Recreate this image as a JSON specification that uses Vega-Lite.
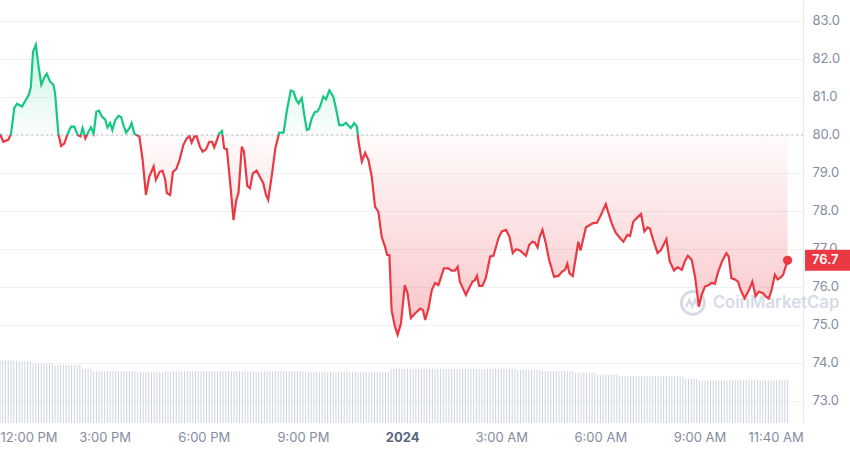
{
  "$schema": "https://vega.github.io/schema/vega-lite/v6.json",
  "width": 803,
  "height": 423,
  "padding": {"left": 0, "top": 0, "right": 47, "bottom": 30},
  "autosize": {"type": "none", "contains": "content"},
  "background": "white",
  "config": {"view": {"stroke": null}, "font": "Inter"},
  "datasets": {
    "price": [
      {"t":"2023-12-31T11:50Z","p":80.03},{"t":"2023-12-31T11:56Z","p":79.82},{"t":"2023-12-31T12:05Z","p":79.87},{"t":"2023-12-31T12:10Z","p":80.03},
      {"t":"2023-12-31T12:16Z","p":80.71},{"t":"2023-12-31T12:21Z","p":80.82},{"t":"2023-12-31T12:30Z","p":80.75},{"t":"2023-12-31T12:36Z","p":80.90},
      {"t":"2023-12-31T12:42Z","p":81.05},{"t":"2023-12-31T12:46Z","p":81.25},{"t":"2023-12-31T12:50Z","p":82.19},{"t":"2023-12-31T12:55Z","p":82.37},
      {"t":"2023-12-31T13:00Z","p":81.80},{"t":"2023-12-31T13:05Z","p":81.32},{"t":"2023-12-31T13:11Z","p":81.53},{"t":"2023-12-31T13:15Z","p":81.61},
      {"t":"2023-12-31T13:21Z","p":81.40},{"t":"2023-12-31T13:27Z","p":81.32},{"t":"2023-12-31T13:30Z","p":81.10},{"t":"2023-12-31T13:36Z","p":80.03},
      {"t":"2023-12-31T13:41Z","p":79.71},{"t":"2023-12-31T13:47Z","p":79.78},{"t":"2023-12-31T13:52Z","p":80.00},{"t":"2023-12-31T13:59Z","p":80.22},
      {"t":"2023-12-31T14:05Z","p":80.22},{"t":"2023-12-31T14:11Z","p":80.00},{"t":"2023-12-31T14:16Z","p":79.96},{"t":"2023-12-31T14:20Z","p":80.18},
      {"t":"2023-12-31T14:25Z","p":79.91},{"t":"2023-12-31T14:31Z","p":80.09},{"t":"2023-12-31T14:35Z","p":80.20},{"t":"2023-12-31T14:40Z","p":80.04},
      {"t":"2023-12-31T14:45Z","p":80.61},{"t":"2023-12-31T14:50Z","p":80.64},{"t":"2023-12-31T14:55Z","p":80.48},{"t":"2023-12-31T15:01Z","p":80.41},
      {"t":"2023-12-31T15:05Z","p":80.20},{"t":"2023-12-31T15:10Z","p":80.31},{"t":"2023-12-31T15:14Z","p":80.13},{"t":"2023-12-31T15:19Z","p":80.38},
      {"t":"2023-12-31T15:25Z","p":80.50},{"t":"2023-12-31T15:30Z","p":80.47},{"t":"2023-12-31T15:34Z","p":80.26},{"t":"2023-12-31T15:39Z","p":80.06},
      {"t":"2023-12-31T15:45Z","p":80.18},{"t":"2023-12-31T15:49Z","p":80.31},{"t":"2023-12-31T15:54Z","p":80.03},{"t":"2023-12-31T16:03Z","p":79.96},
      {"t":"2023-12-31T16:09Z","p":79.34},{"t":"2023-12-31T16:15Z","p":78.42},{"t":"2023-12-31T16:21Z","p":78.90},{"t":"2023-12-31T16:29Z","p":79.17},
      {"t":"2023-12-31T16:33Z","p":78.82},{"t":"2023-12-31T16:40Z","p":79.03},{"t":"2023-12-31T16:45Z","p":79.06},{"t":"2023-12-31T16:50Z","p":78.82},
      {"t":"2023-12-31T16:53Z","p":78.47},{"t":"2023-12-31T16:59Z","p":78.42},{"t":"2023-12-31T17:04Z","p":79.03},{"t":"2023-12-31T17:10Z","p":79.10},
      {"t":"2023-12-31T17:16Z","p":79.34},{"t":"2023-12-31T17:23Z","p":79.74},{"t":"2023-12-31T17:29Z","p":79.91},{"t":"2023-12-31T17:34Z","p":79.97},
      {"t":"2023-12-31T17:38Z","p":79.80},{"t":"2023-12-31T17:43Z","p":79.96},{"t":"2023-12-31T17:47Z","p":79.96},{"t":"2023-12-31T17:53Z","p":79.69},
      {"t":"2023-12-31T17:58Z","p":79.56},{"t":"2023-12-31T18:04Z","p":79.62},{"t":"2023-12-31T18:10Z","p":79.82},{"t":"2023-12-31T18:15Z","p":79.82},
      {"t":"2023-12-31T18:19Z","p":79.67},{"t":"2023-12-31T18:24Z","p":79.87},{"t":"2023-12-31T18:28Z","p":80.04},{"t":"2023-12-31T18:33Z","p":80.10},
      {"t":"2023-12-31T18:37Z","p":79.65},{"t":"2023-12-31T18:42Z","p":79.62},{"t":"2023-12-31T18:48Z","p":78.73},{"t":"2023-12-31T18:54Z","p":77.76},
      {"t":"2023-12-31T18:59Z","p":78.29},{"t":"2023-12-31T19:03Z","p":78.47},{"t":"2023-12-31T19:09Z","p":79.69},{"t":"2023-12-31T19:13Z","p":79.56},
      {"t":"2023-12-31T19:19Z","p":78.66},{"t":"2023-12-31T19:24Z","p":78.60},{"t":"2023-12-31T19:29Z","p":78.99},{"t":"2023-12-31T19:36Z","p":79.06},
      {"t":"2023-12-31T19:42Z","p":78.89},{"t":"2023-12-31T19:48Z","p":78.73},{"t":"2023-12-31T19:53Z","p":78.42},{"t":"2023-12-31T19:57Z","p":78.29},
      {"t":"2023-12-31T20:04Z","p":78.99},{"t":"2023-12-31T20:10Z","p":79.65},{"t":"2023-12-31T20:17Z","p":80.06},{"t":"2023-12-31T20:25Z","p":80.06},
      {"t":"2023-12-31T20:31Z","p":80.66},{"t":"2023-12-31T20:38Z","p":81.17},{"t":"2023-12-31T20:43Z","p":81.14},{"t":"2023-12-31T20:48Z","p":80.92},
      {"t":"2023-12-31T20:52Z","p":80.83},{"t":"2023-12-31T20:58Z","p":80.97},{"t":"2023-12-31T21:02Z","p":80.57},{"t":"2023-12-31T21:07Z","p":80.13},
      {"t":"2023-12-31T21:11Z","p":80.15},{"t":"2023-12-31T21:16Z","p":80.44},{"t":"2023-12-31T21:22Z","p":80.61},{"t":"2023-12-31T21:26Z","p":80.61},
      {"t":"2023-12-31T21:31Z","p":80.74},{"t":"2023-12-31T21:37Z","p":81.01},{"t":"2023-12-31T21:42Z","p":80.94},{"t":"2023-12-31T21:48Z","p":81.17},
      {"t":"2023-12-31T21:55Z","p":81.01},{"t":"2023-12-31T22:00Z","p":80.70},{"t":"2023-12-31T22:06Z","p":80.26},{"t":"2023-12-31T22:13Z","p":80.26},
      {"t":"2023-12-31T22:18Z","p":80.32},{"t":"2023-12-31T22:27Z","p":80.18},{"t":"2023-12-31T22:33Z","p":80.31},{"t":"2023-12-31T22:38Z","p":80.22},
      {"t":"2023-12-31T22:41Z","p":79.82},{"t":"2023-12-31T22:47Z","p":79.30},{"t":"2023-12-31T22:53Z","p":79.53},{"t":"2023-12-31T22:59Z","p":79.34},
      {"t":"2023-12-31T23:05Z","p":78.90},{"t":"2023-12-31T23:11Z","p":78.11},{"t":"2023-12-31T23:17Z","p":77.98},{"t":"2023-12-31T23:23Z","p":77.32},
      {"t":"2023-12-31T23:29Z","p":77.06},{"t":"2023-12-31T23:33Z","p":76.84},{"t":"2023-12-31T23:37Z","p":76.84},{"t":"2023-12-31T23:41Z","p":75.39},
      {"t":"2023-12-31T23:47Z","p":74.96},{"t":"2023-12-31T23:52Z","p":74.74},{"t":"2023-12-31T23:58Z","p":75.04},
      {"t":"2024-01-01T00:05Z","p":76.05},{"t":"2024-01-01T00:10Z","p":75.83},{"t":"2024-01-01T00:16Z","p":75.18},{"t":"2024-01-01T00:24Z","p":75.31},
      {"t":"2024-01-01T00:33Z","p":75.43},{"t":"2024-01-01T00:38Z","p":75.39},{"t":"2024-01-01T00:42Z","p":75.13},{"t":"2024-01-01T00:48Z","p":75.43},
      {"t":"2024-01-01T00:54Z","p":75.92},{"t":"2024-01-01T01:00Z","p":76.10},{"t":"2024-01-01T01:06Z","p":76.05},{"t":"2024-01-01T01:16Z","p":76.49},
      {"t":"2024-01-01T01:24Z","p":76.49},{"t":"2024-01-01T01:30Z","p":76.43},{"t":"2024-01-01T01:36Z","p":76.43},{"t":"2024-01-01T01:41Z","p":76.53},
      {"t":"2024-01-01T01:45Z","p":76.14},{"t":"2024-01-01T01:56Z","p":75.79},{"t":"2024-01-01T02:02Z","p":75.97},{"t":"2024-01-01T02:08Z","p":76.14},
      {"t":"2024-01-01T02:12Z","p":76.17},{"t":"2024-01-01T02:16Z","p":76.29},{"t":"2024-01-01T02:20Z","p":76.03},{"t":"2024-01-01T02:26Z","p":76.03},
      {"t":"2024-01-01T02:32Z","p":76.23},{"t":"2024-01-01T02:40Z","p":76.80},{"t":"2024-01-01T02:46Z","p":76.82},{"t":"2024-01-01T02:55Z","p":77.28},
      {"t":"2024-01-01T03:01Z","p":77.46},{"t":"2024-01-01T03:09Z","p":77.50},{"t":"2024-01-01T03:15Z","p":77.32},{"t":"2024-01-01T03:21Z","p":76.89},
      {"t":"2024-01-01T03:27Z","p":76.99},{"t":"2024-01-01T03:34Z","p":76.96},{"t":"2024-01-01T03:45Z","p":76.82},{"t":"2024-01-01T03:51Z","p":77.11},
      {"t":"2024-01-01T03:57Z","p":77.19},{"t":"2024-01-01T04:01Z","p":77.17},{"t":"2024-01-01T04:06Z","p":77.04},{"t":"2024-01-01T04:10Z","p":77.32},
      {"t":"2024-01-01T04:15Z","p":77.50},{"t":"2024-01-01T04:21Z","p":77.15},{"t":"2024-01-01T04:27Z","p":76.71},{"t":"2024-01-01T04:36Z","p":76.27},
      {"t":"2024-01-01T04:44Z","p":76.29},{"t":"2024-01-01T04:50Z","p":76.40},{"t":"2024-01-01T04:56Z","p":76.45},{"t":"2024-01-01T05:00Z","p":76.61},
      {"t":"2024-01-01T05:04Z","p":76.36},{"t":"2024-01-01T05:10Z","p":76.29},{"t":"2024-01-01T05:20Z","p":77.19},{"t":"2024-01-01T05:24Z","p":76.96},
      {"t":"2024-01-01T05:34Z","p":77.57},{"t":"2024-01-01T05:41Z","p":77.63},{"t":"2024-01-01T05:47Z","p":77.68},{"t":"2024-01-01T05:54Z","p":77.69},
      {"t":"2024-01-01T06:01Z","p":77.89},{"t":"2024-01-01T06:10Z","p":78.18},{"t":"2024-01-01T06:14Z","p":77.98},{"t":"2024-01-01T06:21Z","p":77.66},
      {"t":"2024-01-01T06:28Z","p":77.43},{"t":"2024-01-01T06:36Z","p":77.28},{"t":"2024-01-01T06:42Z","p":77.19},{"t":"2024-01-01T06:49Z","p":77.37},
      {"t":"2024-01-01T06:54Z","p":77.34},{"t":"2024-01-01T07:00Z","p":77.72},{"t":"2024-01-01T07:06Z","p":77.81},{"t":"2024-01-01T07:14Z","p":77.92},
      {"t":"2024-01-01T07:20Z","p":77.46},{"t":"2024-01-01T07:26Z","p":77.57},{"t":"2024-01-01T07:30Z","p":77.54},{"t":"2024-01-01T07:36Z","p":77.24},
      {"t":"2024-01-01T07:44Z","p":76.89},{"t":"2024-01-01T07:50Z","p":76.97},{"t":"2024-01-01T08:00Z","p":77.26},{"t":"2024-01-01T08:06Z","p":76.67},
      {"t":"2024-01-01T08:14Z","p":76.43},{"t":"2024-01-01T08:20Z","p":76.52},{"t":"2024-01-01T08:28Z","p":76.45},{"t":"2024-01-01T08:34Z","p":76.69},
      {"t":"2024-01-01T08:39Z","p":76.82},{"t":"2024-01-01T08:46Z","p":76.71},{"t":"2024-01-01T08:52Z","p":76.27},{"t":"2024-01-01T08:59Z","p":75.48},
      {"t":"2024-01-01T09:04Z","p":75.79},{"t":"2024-01-01T09:10Z","p":76.01},{"t":"2024-01-01T09:17Z","p":76.05},{"t":"2024-01-01T09:22Z","p":76.11},
      {"t":"2024-01-01T09:28Z","p":76.08},{"t":"2024-01-01T09:34Z","p":76.40},{"t":"2024-01-01T09:41Z","p":76.67},{"t":"2024-01-01T09:49Z","p":76.89},
      {"t":"2024-01-01T09:53Z","p":76.80},{"t":"2024-01-01T09:58Z","p":76.23},{"t":"2024-01-01T10:04Z","p":76.20},{"t":"2024-01-01T10:10Z","p":76.14},
      {"t":"2024-01-01T10:15Z","p":75.92},{"t":"2024-01-01T10:22Z","p":75.70},{"t":"2024-01-01T10:30Z","p":75.92},{"t":"2024-01-01T10:36Z","p":76.14},
      {"t":"2024-01-01T10:42Z","p":75.76},{"t":"2024-01-01T10:48Z","p":75.88},{"t":"2024-01-01T10:56Z","p":75.83},{"t":"2024-01-01T11:01Z","p":75.74},
      {"t":"2024-01-01T11:06Z","p":75.70},{"t":"2024-01-01T11:11Z","p":75.92},{"t":"2024-01-01T11:17Z","p":76.32},{"t":"2024-01-01T11:22Z","p":76.20},
      {"t":"2024-01-01T11:28Z","p":76.26},{"t":"2024-01-01T11:32Z","p":76.32},{"t":"2024-01-01T11:40Z","p":76.70}
    ],
    "last": [{"t":"2024-01-01T11:40Z","p":76.70}],
    "vol": [
      {"t":"2023-12-31T11:50Z","v":627},{"t":"2023-12-31T11:55Z","v":627},{"t":"2023-12-31T12:00Z","v":627},{"t":"2023-12-31T12:05Z","v":627},
      {"t":"2023-12-31T12:10Z","v":627},{"t":"2023-12-31T12:15Z","v":617},{"t":"2023-12-31T12:20Z","v":617},{"t":"2023-12-31T12:25Z","v":617},
      {"t":"2023-12-31T12:30Z","v":617},{"t":"2023-12-31T12:35Z","v":617},{"t":"2023-12-31T12:40Z","v":617},{"t":"2023-12-31T12:45Z","v":617},
      {"t":"2023-12-31T12:50Z","v":593},{"t":"2023-12-31T12:55Z","v":593},{"t":"2023-12-31T13:00Z","v":593},{"t":"2023-12-31T13:05Z","v":593},
      {"t":"2023-12-31T13:10Z","v":593},{"t":"2023-12-31T13:15Z","v":593},{"t":"2023-12-31T13:20Z","v":593},{"t":"2023-12-31T13:25Z","v":593},
      {"t":"2023-12-31T13:30Z","v":577},{"t":"2023-12-31T13:35Z","v":577},{"t":"2023-12-31T13:40Z","v":577},{"t":"2023-12-31T13:45Z","v":577},
      {"t":"2023-12-31T13:50Z","v":577},{"t":"2023-12-31T13:55Z","v":577},{"t":"2023-12-31T14:00Z","v":577},{"t":"2023-12-31T14:05Z","v":577},
      {"t":"2023-12-31T14:10Z","v":577},{"t":"2023-12-31T14:15Z","v":577},{"t":"2023-12-31T14:20Z","v":543},{"t":"2023-12-31T14:25Z","v":543},
      {"t":"2023-12-31T14:30Z","v":543},{"t":"2023-12-31T14:35Z","v":543},{"t":"2023-12-31T14:40Z","v":517},{"t":"2023-12-31T14:45Z","v":517},
      {"t":"2023-12-31T14:50Z","v":517},{"t":"2023-12-31T14:55Z","v":517},{"t":"2023-12-31T15:00Z","v":517},{"t":"2023-12-31T15:05Z","v":517},
      {"t":"2023-12-31T15:10Z","v":517},{"t":"2023-12-31T15:15Z","v":517},{"t":"2023-12-31T15:20Z","v":517},{"t":"2023-12-31T15:25Z","v":517},
      {"t":"2023-12-31T15:30Z","v":517},{"t":"2023-12-31T15:35Z","v":517},{"t":"2023-12-31T15:40Z","v":517},{"t":"2023-12-31T15:45Z","v":517},
      {"t":"2023-12-31T15:50Z","v":517},{"t":"2023-12-31T15:55Z","v":517},{"t":"2023-12-31T16:00Z","v":507},{"t":"2023-12-31T16:05Z","v":507},
      {"t":"2023-12-31T16:10Z","v":507},{"t":"2023-12-31T16:15Z","v":507},{"t":"2023-12-31T16:20Z","v":507},{"t":"2023-12-31T16:25Z","v":507},
      {"t":"2023-12-31T16:30Z","v":507},{"t":"2023-12-31T16:35Z","v":507},{"t":"2023-12-31T16:40Z","v":507},{"t":"2023-12-31T16:45Z","v":507},
      {"t":"2023-12-31T16:50Z","v":517},{"t":"2023-12-31T16:55Z","v":517},{"t":"2023-12-31T17:00Z","v":517},{"t":"2023-12-31T17:05Z","v":517},
      {"t":"2023-12-31T17:10Z","v":517},{"t":"2023-12-31T17:15Z","v":517},{"t":"2023-12-31T17:20Z","v":517},{"t":"2023-12-31T17:25Z","v":517},
      {"t":"2023-12-31T17:30Z","v":517},{"t":"2023-12-31T17:35Z","v":517},{"t":"2023-12-31T17:40Z","v":517},{"t":"2023-12-31T17:45Z","v":517},
      {"t":"2023-12-31T17:50Z","v":517},{"t":"2023-12-31T17:55Z","v":517},{"t":"2023-12-31T18:00Z","v":517},{"t":"2023-12-31T18:05Z","v":517},
      {"t":"2023-12-31T18:10Z","v":517},{"t":"2023-12-31T18:15Z","v":517},{"t":"2023-12-31T18:20Z","v":517},{"t":"2023-12-31T18:25Z","v":517},
      {"t":"2023-12-31T18:30Z","v":517},{"t":"2023-12-31T18:35Z","v":517},{"t":"2023-12-31T18:40Z","v":517},{"t":"2023-12-31T18:45Z","v":517},
      {"t":"2023-12-31T18:50Z","v":517},{"t":"2023-12-31T18:55Z","v":517},{"t":"2023-12-31T19:00Z","v":517},{"t":"2023-12-31T19:05Z","v":517},
      {"t":"2023-12-31T19:10Z","v":517},{"t":"2023-12-31T19:15Z","v":517},{"t":"2023-12-31T19:20Z","v":517},{"t":"2023-12-31T19:25Z","v":517},
      {"t":"2023-12-31T19:30Z","v":517},{"t":"2023-12-31T19:35Z","v":517},{"t":"2023-12-31T19:40Z","v":517},{"t":"2023-12-31T19:45Z","v":517},
      {"t":"2023-12-31T19:50Z","v":517},{"t":"2023-12-31T19:55Z","v":517},{"t":"2023-12-31T20:00Z","v":517},{"t":"2023-12-31T20:05Z","v":517},
      {"t":"2023-12-31T20:10Z","v":517},{"t":"2023-12-31T20:15Z","v":517},{"t":"2023-12-31T20:20Z","v":517},{"t":"2023-12-31T20:25Z","v":517},
      {"t":"2023-12-31T20:30Z","v":517},{"t":"2023-12-31T20:35Z","v":517},{"t":"2023-12-31T20:40Z","v":517},{"t":"2023-12-31T20:45Z","v":517},
      {"t":"2023-12-31T20:50Z","v":517},{"t":"2023-12-31T20:55Z","v":517},{"t":"2023-12-31T21:00Z","v":517},{"t":"2023-12-31T21:05Z","v":510},
      {"t":"2023-12-31T21:10Z","v":510},{"t":"2023-12-31T21:15Z","v":510},{"t":"2023-12-31T21:20Z","v":510},{"t":"2023-12-31T21:25Z","v":510},
      {"t":"2023-12-31T21:30Z","v":510},{"t":"2023-12-31T21:35Z","v":510},{"t":"2023-12-31T21:40Z","v":510},{"t":"2023-12-31T21:45Z","v":510},
      {"t":"2023-12-31T21:50Z","v":510},{"t":"2023-12-31T21:55Z","v":510},{"t":"2023-12-31T22:00Z","v":510},{"t":"2023-12-31T22:05Z","v":510},
      {"t":"2023-12-31T22:10Z","v":510},{"t":"2023-12-31T22:15Z","v":510},{"t":"2023-12-31T22:20Z","v":510},{"t":"2023-12-31T22:25Z","v":510},
      {"t":"2023-12-31T22:30Z","v":510},{"t":"2023-12-31T22:35Z","v":510},{"t":"2023-12-31T22:40Z","v":510},{"t":"2023-12-31T22:45Z","v":510},
      {"t":"2023-12-31T22:50Z","v":510},{"t":"2023-12-31T22:55Z","v":510},{"t":"2023-12-31T23:00Z","v":510},{"t":"2023-12-31T23:05Z","v":510},
      {"t":"2023-12-31T23:10Z","v":510},{"t":"2023-12-31T23:15Z","v":510},{"t":"2023-12-31T23:20Z","v":510},{"t":"2023-12-31T23:25Z","v":510},
      {"t":"2023-12-31T23:30Z","v":510},{"t":"2023-12-31T23:35Z","v":510},{"t":"2023-12-31T23:40Z","v":543},{"t":"2023-12-31T23:45Z","v":543},
      {"t":"2023-12-31T23:50Z","v":543},{"t":"2023-12-31T23:55Z","v":543},
      {"t":"2024-01-01T00:00Z","v":543},{"t":"2024-01-01T00:05Z","v":543},{"t":"2024-01-01T00:10Z","v":543},{"t":"2024-01-01T00:15Z","v":543},
      {"t":"2024-01-01T00:20Z","v":543},{"t":"2024-01-01T00:25Z","v":543},{"t":"2024-01-01T00:30Z","v":543},{"t":"2024-01-01T00:35Z","v":543},
      {"t":"2024-01-01T00:40Z","v":543},{"t":"2024-01-01T00:45Z","v":543},{"t":"2024-01-01T00:50Z","v":543},{"t":"2024-01-01T00:55Z","v":543},
      {"t":"2024-01-01T01:00Z","v":543},{"t":"2024-01-01T01:05Z","v":543},{"t":"2024-01-01T01:10Z","v":543},{"t":"2024-01-01T01:15Z","v":543},
      {"t":"2024-01-01T01:20Z","v":543},{"t":"2024-01-01T01:25Z","v":543},{"t":"2024-01-01T01:30Z","v":543},{"t":"2024-01-01T01:35Z","v":543},
      {"t":"2024-01-01T01:40Z","v":543},{"t":"2024-01-01T01:45Z","v":543},{"t":"2024-01-01T01:50Z","v":543},{"t":"2024-01-01T01:55Z","v":543},
      {"t":"2024-01-01T02:00Z","v":543},{"t":"2024-01-01T02:05Z","v":543},{"t":"2024-01-01T02:10Z","v":543},{"t":"2024-01-01T02:15Z","v":543},
      {"t":"2024-01-01T02:20Z","v":543},{"t":"2024-01-01T02:25Z","v":543},{"t":"2024-01-01T02:30Z","v":543},{"t":"2024-01-01T02:35Z","v":543},
      {"t":"2024-01-01T02:40Z","v":543},{"t":"2024-01-01T02:45Z","v":543},{"t":"2024-01-01T02:50Z","v":543},{"t":"2024-01-01T02:55Z","v":543},
      {"t":"2024-01-01T03:00Z","v":543},{"t":"2024-01-01T03:05Z","v":543},{"t":"2024-01-01T03:10Z","v":543},{"t":"2024-01-01T03:15Z","v":543},
      {"t":"2024-01-01T03:20Z","v":543},{"t":"2024-01-01T03:25Z","v":543},{"t":"2024-01-01T03:30Z","v":533},{"t":"2024-01-01T03:35Z","v":533},
      {"t":"2024-01-01T03:40Z","v":533},{"t":"2024-01-01T03:45Z","v":533},{"t":"2024-01-01T03:50Z","v":533},{"t":"2024-01-01T03:55Z","v":533},
      {"t":"2024-01-01T04:00Z","v":533},{"t":"2024-01-01T04:05Z","v":533},{"t":"2024-01-01T04:10Z","v":533},{"t":"2024-01-01T04:15Z","v":520},
      {"t":"2024-01-01T04:20Z","v":520},{"t":"2024-01-01T04:25Z","v":520},{"t":"2024-01-01T04:30Z","v":520},{"t":"2024-01-01T04:35Z","v":520},
      {"t":"2024-01-01T04:40Z","v":520},{"t":"2024-01-01T04:45Z","v":520},{"t":"2024-01-01T04:50Z","v":520},{"t":"2024-01-01T04:55Z","v":520},
      {"t":"2024-01-01T05:00Z","v":520},{"t":"2024-01-01T05:05Z","v":520},{"t":"2024-01-01T05:10Z","v":520},{"t":"2024-01-01T05:15Z","v":503},
      {"t":"2024-01-01T05:20Z","v":503},{"t":"2024-01-01T05:25Z","v":503},{"t":"2024-01-01T05:30Z","v":503},{"t":"2024-01-01T05:35Z","v":503},
      {"t":"2024-01-01T05:40Z","v":503},{"t":"2024-01-01T05:45Z","v":503},{"t":"2024-01-01T05:50Z","v":503},{"t":"2024-01-01T05:55Z","v":483},
      {"t":"2024-01-01T06:00Z","v":483},{"t":"2024-01-01T06:05Z","v":483},{"t":"2024-01-01T06:10Z","v":483},{"t":"2024-01-01T06:15Z","v":483},
      {"t":"2024-01-01T06:20Z","v":483},{"t":"2024-01-01T06:25Z","v":483},{"t":"2024-01-01T06:30Z","v":483},{"t":"2024-01-01T06:35Z","v":467},
      {"t":"2024-01-01T06:40Z","v":467},{"t":"2024-01-01T06:45Z","v":467},{"t":"2024-01-01T06:50Z","v":467},{"t":"2024-01-01T06:55Z","v":467},
      {"t":"2024-01-01T07:00Z","v":467},{"t":"2024-01-01T07:05Z","v":467},{"t":"2024-01-01T07:10Z","v":467},{"t":"2024-01-01T07:15Z","v":467},
      {"t":"2024-01-01T07:20Z","v":467},{"t":"2024-01-01T07:25Z","v":467},{"t":"2024-01-01T07:30Z","v":467},{"t":"2024-01-01T07:35Z","v":467},
      {"t":"2024-01-01T07:40Z","v":467},{"t":"2024-01-01T07:45Z","v":467},{"t":"2024-01-01T07:50Z","v":467},{"t":"2024-01-01T07:55Z","v":467},
      {"t":"2024-01-01T08:00Z","v":467},{"t":"2024-01-01T08:05Z","v":467},{"t":"2024-01-01T08:10Z","v":467},{"t":"2024-01-01T08:15Z","v":467},
      {"t":"2024-01-01T08:20Z","v":467},{"t":"2024-01-01T08:25Z","v":467},{"t":"2024-01-01T08:30Z","v":467},{"t":"2024-01-01T08:35Z","v":443},
      {"t":"2024-01-01T08:40Z","v":443},{"t":"2024-01-01T08:45Z","v":443},{"t":"2024-01-01T08:50Z","v":443},{"t":"2024-01-01T08:55Z","v":443},
      {"t":"2024-01-01T09:00Z","v":427},{"t":"2024-01-01T09:05Z","v":427},{"t":"2024-01-01T09:10Z","v":427},{"t":"2024-01-01T09:15Z","v":427},
      {"t":"2024-01-01T09:20Z","v":427},{"t":"2024-01-01T09:25Z","v":427},{"t":"2024-01-01T09:30Z","v":427},{"t":"2024-01-01T09:35Z","v":427},
      {"t":"2024-01-01T09:40Z","v":427},{"t":"2024-01-01T09:45Z","v":427},{"t":"2024-01-01T09:50Z","v":427},{"t":"2024-01-01T09:55Z","v":427},
      {"t":"2024-01-01T10:00Z","v":427},{"t":"2024-01-01T10:05Z","v":427},{"t":"2024-01-01T10:10Z","v":427},{"t":"2024-01-01T10:15Z","v":427},
      {"t":"2024-01-01T10:20Z","v":427},{"t":"2024-01-01T10:25Z","v":427},{"t":"2024-01-01T10:30Z","v":427},{"t":"2024-01-01T10:35Z","v":427},
      {"t":"2024-01-01T10:40Z","v":427},{"t":"2024-01-01T10:45Z","v":427},{"t":"2024-01-01T10:50Z","v":427},{"t":"2024-01-01T10:55Z","v":427},
      {"t":"2024-01-01T11:00Z","v":427},{"t":"2024-01-01T11:05Z","v":427},{"t":"2024-01-01T11:10Z","v":427},{"t":"2024-01-01T11:15Z","v":427},
      {"t":"2024-01-01T11:20Z","v":427},{"t":"2024-01-01T11:25Z","v":427},{"t":"2024-01-01T11:30Z","v":427},{"t":"2024-01-01T11:35Z","v":427},
      {"t":"2024-01-01T11:40Z","v":427}
    ]
  },
  "layer": [
    {
      "data": {"name": "vol"},
      "mark": {"type": "bar", "width": 1, "color": "#cdd3df"},
      "encoding": {
        "x": {
          "field": "t", "type": "temporal",
          "scale": {"type": "utc", "nice": false, "padding": 0, "domain": [
            {"year": 2023, "month": 12, "date": 31, "hours": 11, "minutes": 50, "utc": true},
            {"year": 2024, "month": 1, "date": 1, "hours": 12, "minutes": 8, "utc": true}
          ]},
          "axis": {
            "title": null,
            "values": [
              {"year": 2023, "month": 12, "date": 31, "hours": 12, "utc": true},
              {"year": 2023, "month": 12, "date": 31, "hours": 15, "utc": true},
              {"year": 2023, "month": 12, "date": 31, "hours": 18, "utc": true},
              {"year": 2023, "month": 12, "date": 31, "hours": 21, "utc": true},
              {"year": 2024, "month": 1, "date": 1, "hours": 0, "utc": true},
              {"year": 2024, "month": 1, "date": 1, "hours": 3, "utc": true},
              {"year": 2024, "month": 1, "date": 1, "hours": 6, "utc": true},
              {"year": 2024, "month": 1, "date": 1, "hours": 9, "utc": true},
              {"year": 2024, "month": 1, "date": 1, "hours": 11, "minutes": 40, "utc": true}
            ],
            "labelExpr": "utchours(datum.value) == 0 && utcminutes(datum.value) == 0 ? '2024' : utcFormat(datum.value, '%-I:%M %p')",
            "labelFontWeight": {"condition": {"test": "utchours(datum.value) == 0 && utcminutes(datum.value) == 0", "value": "bold"}, "value": "normal"},
            "labelColor": {"condition": {"test": "utchours(datum.value) == 0 && utcminutes(datum.value) == 0", "value": "#58667e"}, "value": "#858ca2"},
            "labelAlign": "center",
            "labelOffset": {"condition": [
              {"test": "utcdate(datum.value) == 31 && utchours(datum.value) == 12", "value": 23},
              {"test": "utcminutes(datum.value) == 40", "value": -12}
            ], "value": 0},
            "labelFlush": false,
            "grid": false, "domain": false, "ticks": false,
            "labelPadding": 8, "labelFontSize": 13, "labelFont": "Inter", "labelOverlap": false
          }
        },
        "y": {"field": "v", "type": "quantitative", "scale": {"domain": [0, 4230], "nice": false}, "axis": null}
      }
    },
    {
      "data": {"name": "price"},
      "layer": [
        {
          "mark": {
            "type": "area", "interpolate": "linear", "line": false,
            "fill": {"gradient": "linear", "x1": 0, "y1": 0, "x2": 0, "y2": 1, "stops": [
              {"offset": 0, "color": "rgba(22,199,132,0.22)"},
              {"offset": 0.3106, "color": "rgba(22,199,132,0.02)"},
              {"offset": 0.3106, "color": "rgba(234,57,67,0.02)"},
              {"offset": 1, "color": "rgba(234,57,67,0.30)"}
            ]}
          },
          "encoding": {
            "x": {"field": "t", "type": "temporal"},
            "y": {
              "field": "p", "type": "quantitative",
              "scale": {"domain": [72.42, 83.55], "nice": false, "zero": false},
              "axis": {
                "orient": "right", "title": null,
                "values": [73, 74, 75, 76, 77, 78, 79, 80, 81, 82, 83],
                "format": ".1f", "grid": true, "gridColor": "#eff2f5", "gridWidth": 1,
                "domain": true, "domainColor": "#e6e9ef", "ticks": false,
                "labelPadding": 9, "labelColor": "#858ca2", "labelFontSize": 13, "labelFont": "Inter"
              }
            },
            "y2": {"datum": 80}
          }
        },
        {
          "data": {"values": [{}]},
          "mark": {"type": "rule", "strokeDash": [1.5, 3.5], "color": "#a7aebf", "strokeWidth": 1},
          "encoding": {"y": {"datum": 80}}
        },
        {
          "data": {"values": [{}]},
          "mark": {"type": "point", "shape": "circle", "filled": false, "size": 529, "strokeWidth": 3, "color": "#cfd6e2", "opacity": 0.85},
          "encoding": {
            "x": {"datum": {"year": 2024, "month": 1, "date": 1, "hours": 8, "minutes": 48, "utc": true}},
            "y": {"datum": 75.58}
          }
        },
        {
          "data": {"values": [{}]},
          "mark": {"type": "point", "shape": "M-0.6,0.35 L-0.3,-0.25 L-0.05,0.3 L0.2,-0.25 L0.42,0.2 L0.6,0.05", "filled": false, "size": 529, "strokeWidth": 2.5, "color": "#cfd6e2", "opacity": 0.85},
          "encoding": {
            "x": {"datum": {"year": 2024, "month": 1, "date": 1, "hours": 8, "minutes": 48, "utc": true}},
            "y": {"datum": 75.58}
          }
        },
        {
          "data": {"values": [{}]},
          "mark": {"type": "text", "text": "CoinMarketCap", "align": "left", "baseline": "middle", "fontSize": 16.8, "fontWeight": 600, "font": "Inter", "color": "#cfd6e2", "opacity": 0.85},
          "encoding": {
            "x": {"datum": {"year": 2024, "month": 1, "date": 1, "hours": 9, "minutes": 24, "utc": true}},
            "y": {"datum": 75.58}
          }
        },
        {
          "mark": {
            "type": "line", "interpolate": "linear", "strokeWidth": 2.2,
            "stroke": {"gradient": "linear", "x1": 0, "y1": 0, "x2": 0, "y2": 1, "stops": [
              {"offset": 0, "color": "#16c784"},
              {"offset": 0.3106, "color": "#16c784"},
              {"offset": 0.3106, "color": "#ea3943"},
              {"offset": 1, "color": "#ea3943"}
            ]}
          },
          "encoding": {
            "x": {"field": "t", "type": "temporal"},
            "y": {"field": "p", "type": "quantitative"}
          }
        },
        {
          "data": {"name": "last"},
          "mark": {"type": "point", "shape": "circle", "filled": true, "size": 85, "color": "#ea3943", "opacity": 1},
          "encoding": {
            "x": {"field": "t", "type": "temporal"},
            "y": {"field": "p", "type": "quantitative"}
          }
        },
        {
          "data": {"name": "last"},
          "mark": {"type": "point", "shape": "M0.09,-0.467 L2.09,-0.467 L2.09,0.467 L0.09,0.467 Z", "filled": true, "size": 2025, "color": "#ea3943", "opacity": 1},
          "encoding": {
            "x": {"datum": {"year": 2024, "month": 1, "date": 1, "hours": 12, "minutes": 8, "utc": true}},
            "y": {"field": "p", "type": "quantitative"}
          }
        },
        {
          "data": {"name": "last"},
          "mark": {"type": "text", "align": "left", "baseline": "middle", "dx": 9, "fontSize": 13, "fontWeight": 600, "font": "Inter", "color": "white"},
          "encoding": {
            "x": {"datum": {"year": 2024, "month": 1, "date": 1, "hours": 12, "minutes": 8, "utc": true}},
            "y": {"field": "p", "type": "quantitative"},
            "text": {"field": "p", "format": ".1f"}
          }
        }
      ]
    }
  ],
  "resolve": {"scale": {"y": "independent"}}
}
